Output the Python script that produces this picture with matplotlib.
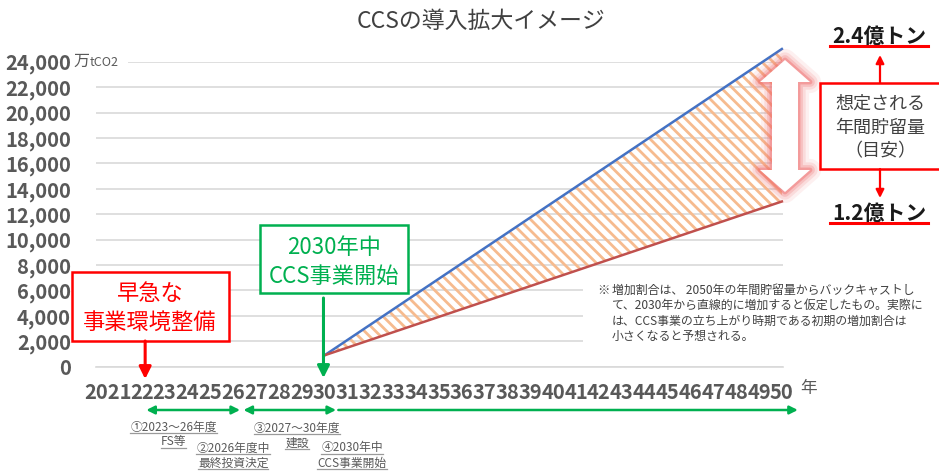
import matplotlib
matplotlib.use("Agg")
import matplotlib.pyplot as plt
from matplotlib import transforms
from matplotlib.patches import Rectangle, Polygon, FancyArrowPatch
from matplotlib.lines import Line2D

plt.rcParams['font.family'] = ['Noto Sans CJK JP', 'DejaVu Sans']
plt.rcParams['hatch.linewidth'] = 2.0

# --- data ---
years = list(range(2021, 2051))
year_labels = ['2021'] + [str(y)[2:] for y in years[1:]]
y_ticks = list(range(0, 24001, 2000))
plan_years = [2030, 2050]
upper_case = [900, 25000]   # 2.4億トン側
lower_case = [900, 13000]   # 1.2億トン側

phase_spans = [(2022.2, 2026.3, '<|-|>'), (2026.45, 2030.5, '<|-|>'), (2030.6, 2050.7, '-|>')]
phase_notes = [
    (2023.4, 427, ['①2023～26年度', 'FS等']),
    (2026.0, 448, ['②2026年度中', '最終投資決定']),
    (2028.8, 428, ['③2027～30年度', '建設']),
    (2031.2, 448, ['④2030年中', 'CCS事業開始']),
]
note_lines = [
    '増加割合は、 2050年の年間貯留量からバックキャストし',
    'て、2030年から直線的に増加すると仮定したもの。実際に',
    'は、CCS事業の立ち上がり時期である初期の増加割合は',
    '小さくなると予想される。',
]

GRAY = '#595959'
RED = '#ff0000'
GREEN = '#00b050'

W, H = 939, 472
fig = plt.figure(figsize=(W / 100, H / 100), dpi=100)


def fx(x):
    return x / W


def fy(y):
    return 1 - y / H


ax = fig.add_axes([fx(96), fy(366.7), (783 - 96) / W, (366.7 - 61.7) / H])
ax.set_xlim(2020.0, 2050.05)
ax.set_ylim(0, 24000)

ax.set_yticks(y_ticks, labels=[f'{v:,}' for v in y_ticks], fontweight='bold',
              fontsize=14.5, color=GRAY)
ax.set_xticks(years, labels=year_labels, fontweight='bold',
              fontsize=14.5, color=GRAY)
ax.tick_params(axis='y', length=0, pad=18)
ax.tick_params(axis='x', length=0, pad=11)
ax.grid(axis='y', color='#d9d9d9', lw=1.2)
ax.set_axisbelow(True)
for side in ['top', 'right', 'left']:
    ax.spines[side].set_visible(False)
ax.spines['bottom'].set_color('#d9d9d9')
ax.spines['bottom'].set_linewidth(1.2)

# the 4-digit first label sits left so the years read as one run
first = ax.xaxis.get_major_ticks()[0].label1
first.set_transform(first.get_transform()
                    + transforms.ScaledTranslation(-0.112, 0, fig.dpi_scale_trans))

# projected range
ax.fill_between(plan_years, lower_case, upper_case, facecolor='none',
                edgecolor='#f6bb8f', hatch='\\\\\\', linewidth=0,
                clip_on=False, zorder=2)
ax.plot(plan_years, upper_case, color='#4472c4', lw=1.8, clip_on=False, zorder=3)
ax.plot(plan_years, lower_case, color='#c0504d', lw=1.8, clip_on=False, zorder=3)

# title and axis units
fig.text(fx(481), fy(22), 'CCSの導入拡大イメージ', ha='center', va='center',
         fontsize=16.5, color='#404040')
fig.add_artist(Rectangle((fx(72), fy(70)), 56 / W, 18 / H, facecolor='white',
                         edgecolor='none', transform=fig.transFigure))
fig.text(fx(73), fy(61), '万', ha='left', va='center', fontsize=11.5, color=GRAY)
fig.text(fx(89.5), fy(62), 'tCO2', ha='left', va='center', fontsize=9, color=GRAY)
fig.text(fx(800), fy(388), '年', ha='left', va='center', fontsize=12, color=GRAY)

# white double arrow with soft red glow
cx, top, bot, hh, hw, sw = 785, 60, 192, 22, 25, 13
arrow_px = [(cx, top), (cx + hw, top + hh), (cx + sw, top + hh), (cx + sw, bot - hh),
            (cx + hw, bot - hh), (cx, bot), (cx - hw, bot - hh), (cx - sw, bot - hh),
            (cx - sw, top + hh), (cx - hw, top + hh)]
arrow_pts = [(fx(x), fy(y)) for x, y in arrow_px]
for lw, a in [(16, 0.10), (11, 0.16), (7, 0.25), (3.5, 0.45)]:
    fig.add_artist(Polygon(arrow_pts, closed=True, fill=False, edgecolor='#f07070',
                           lw=lw, alpha=a, joinstyle='round',
                           transform=fig.transFigure))
fig.add_artist(Polygon(arrow_pts, closed=True, facecolor='white', edgecolor='none',
                       transform=fig.transFigure))


def box(x0, y0, x1, y1, color):
    fig.add_artist(Rectangle((fx(x0), fy(y1)), (x1 - x0) / W, (y1 - y0) / H,
                             facecolor='white', edgecolor=color, lw=1.8,
                             transform=fig.transFigure))


def arrow(p0, p1, color, style='-|>', lw=1.8, scale=14, trans=fig.transFigure):
    fig.add_artist(FancyArrowPatch(p0, p1, arrowstyle=style, mutation_scale=scale,
                                   color=color, lw=lw, shrinkA=0, shrinkB=0,
                                   transform=trans))


# right-hand box: expected annual storage
box(820, 83, 945, 169, RED)
for y, s in zip([104, 128, 151], ['想定される', '年間貯留量', '（目安）']):
    fig.text(fx(880), fy(y), s, ha='center', va='center', fontsize=13,
             color='#404040')
arrow((fx(880), fy(83)), (fx(880), fy(55)), RED, lw=1.6, scale=12)
arrow((fx(880), fy(169)), (fx(880), fy(198)), RED, lw=1.6, scale=12)

underlined = []
t_hi = fig.text(fx(879), fy(36), '2.4億トン', ha='center', va='center', fontsize=15,
                fontweight='bold', color='#1a1a1a')
t_lo = fig.text(fx(879), fy(213), '1.2億トン', ha='center', va='center', fontsize=15,
                fontweight='bold', color='#1a1a1a')

# milestone boxes
blend = transforms.blended_transform_factory(ax.transData, fig.transFigure)
box(72, 272, 229, 341, RED)
fig.text(fx(150), fy(294), '早急な', ha='center', va='center', fontsize=16, color=RED)
fig.text(fx(150), fy(322), '事業環境整備', ha='center', va='center', fontsize=16, color=RED)
arrow((2022.15, fy(341)), (2022.15, fy(379)), RED, lw=2.2, scale=18, trans=blend)

box(260, 225, 408, 293, GREEN)
fig.text(fx(334), fy(247), '2030年中', ha='center', va='center', fontsize=16, color=GREEN)
fig.text(fx(334), fy(276), 'CCS事業開始', ha='center', va='center', fontsize=16, color=GREEN)
arrow((2029.95, fy(298)), (2029.95, fy(378)), GREEN, lw=2.2, scale=18, trans=blend)

# schedule arrows under the year axis
for x0, x1, style in phase_spans:
    arrow((x0, fy(410)), (x1, fy(410)), GREEN, style=style, lw=1.8, scale=12, trans=blend)

for x, y, lines in phase_notes:
    for i, s in enumerate(lines):
        t = ax.text(x, fy(y + 15 * i), s, transform=blend, ha='center', va='center',
                    fontsize=8.5, color=GRAY)
        underlined.append(t)

# footnote
fig.add_artist(Rectangle((fx(583), fy(348)), (W - 583) / W, 68 / H, facecolor='white',
                         edgecolor='none', transform=fig.transFigure))
fig.text(fx(597), fy(290), '※', ha='left', va='center', fontsize=8.8, color='#404040')
for i, s in enumerate(note_lines):
    fig.text(fx(612), fy(290 + 15.5 * i), s, ha='left', va='center', fontsize=8.6,
             color='#404040')

# underlines
fig.canvas.draw()
r = fig.canvas.get_renderer()
for t in underlined:
    bb = t.get_window_extent(r)
    fig.add_artist(Line2D([bb.x0, bb.x1], [bb.y0 + 1, bb.y0 + 1], color='#9a9a9a',
                          lw=0.9, transform=None))
for t in (t_hi, t_lo):
    bb = t.get_window_extent(r)
    fig.add_artist(Line2D([bb.x0 - 2, bb.x1 + 2], [bb.y0 + 1, bb.y0 + 1], color=RED,
                          lw=2.2, transform=None))

fig.savefig('out.png', dpi=100, facecolor='white')
